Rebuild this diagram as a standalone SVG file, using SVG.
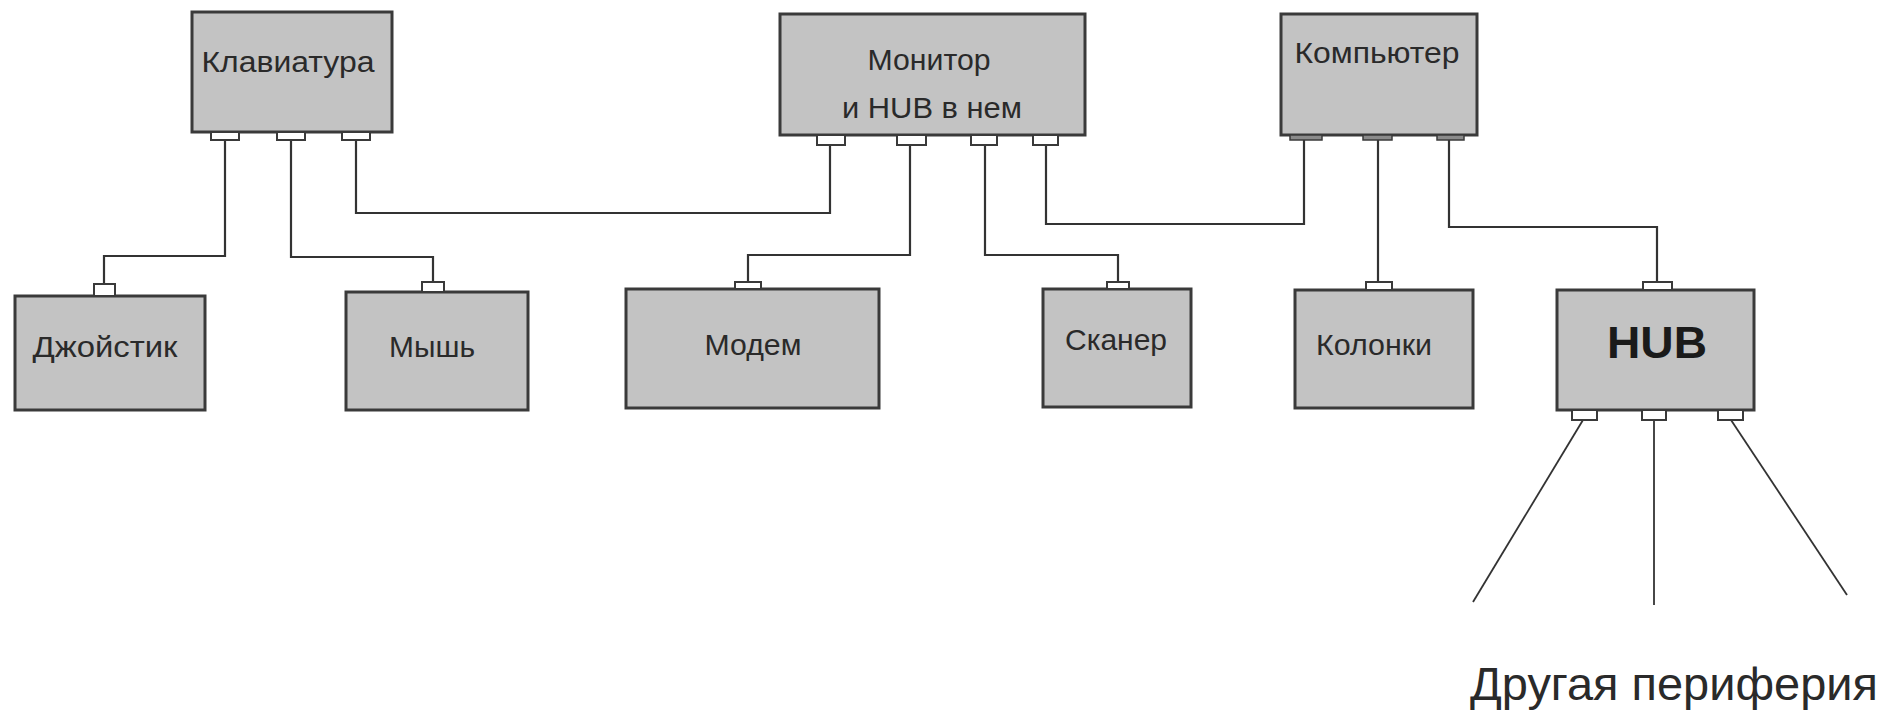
<svg xmlns="http://www.w3.org/2000/svg" width="1885" height="711" viewBox="0 0 1885 711">
<style>
.box{fill:#c3c3c3;stroke:#3a3a3a;stroke-width:3}
.port{fill:#ffffff;stroke:#3a3a3a;stroke-width:2}
.portd{fill:#8a8a8a;stroke:#3a3a3a;stroke-width:1.5}
.lbl{font-family:"Liberation Sans",Arial,sans-serif;font-size:29px;fill:#2a2a2a;text-anchor:middle}
.hub{font-family:"Liberation Sans",Arial,sans-serif;font-size:44px;font-weight:bold;fill:#1a1a1a;text-anchor:middle}
.per{font-family:"Liberation Sans",Arial,sans-serif;font-size:46px;fill:#2a2a2a}
.wire{fill:none;stroke:#333;stroke-width:2.2}
.wire2{fill:none;stroke:#333;stroke-width:1.8}
</style>
<rect width="1885" height="711" fill="#ffffff"/>

<g id="connectors">
  <polyline class="wire" points="225,140 225,256 104,256 104,284"/>
  <polyline class="wire" points="291,140 291,257 433,257 433,282"/>
  <polyline class="wire" points="356,140 356,213 830,213 830,145"/>
  <polyline class="wire" points="910,145 910,255 748,255 748,282"/>
  <polyline class="wire" points="985,145 985,255 1118,255 1118,282"/>
  <polyline class="wire" points="1046,145 1046,224 1304,224 1304,140"/>
  <polyline class="wire" points="1378,140 1378,282"/>
  <polyline class="wire" points="1449,140 1449,227 1657,227 1657,282"/>
  <line class="wire2" x1="1583" y1="420" x2="1473" y2="602"/>
  <line class="wire2" x1="1654" y1="420" x2="1654" y2="605"/>
  <line class="wire2" x1="1731" y1="420" x2="1847" y2="595"/>
</g>

<g id="keyboard">
  <rect class="box" x="192" y="12" width="200" height="120"/>
  <rect class="port" x="211" y="132" width="28" height="8"/>
  <rect class="port" x="277" y="132" width="28" height="8"/>
  <rect class="port" x="342" y="132" width="28" height="8"/>
  <text class="lbl" x="288" y="72" textLength="173" lengthAdjust="spacingAndGlyphs">Клавиатура</text>
</g>

<g id="monitor">
  <rect class="box" x="780" y="14" width="305" height="121"/>
  <rect class="port" x="817" y="135" width="28" height="10"/>
  <rect class="port" x="897" y="135" width="29" height="10"/>
  <rect class="port" x="971" y="135" width="26" height="10"/>
  <rect class="port" x="1033" y="135" width="25" height="10"/>
  <text class="lbl" x="929" y="70" textLength="123" lengthAdjust="spacingAndGlyphs">Монитор</text>
  <text class="lbl" x="932" y="118" textLength="180" lengthAdjust="spacingAndGlyphs">и HUB в нем</text>
</g>

<g id="computer">
  <rect class="box" x="1281" y="14" width="196" height="121"/>
  <rect class="portd" x="1290" y="135" width="32" height="5"/>
  <rect class="portd" x="1363" y="135" width="29" height="5"/>
  <rect class="portd" x="1437" y="135" width="27" height="5"/>
  <text class="lbl" x="1377" y="63" textLength="165" lengthAdjust="spacingAndGlyphs">Компьютер</text>
</g>

<g id="joystick">
  <rect class="box" x="15" y="296" width="190" height="114"/>
  <rect class="port" x="94" y="284" width="21" height="12"/>
  <text class="lbl" x="105" y="357" textLength="145" lengthAdjust="spacingAndGlyphs">Джойстик</text>
</g>

<g id="mouse">
  <rect class="box" x="346" y="292" width="182" height="118"/>
  <rect class="port" x="422" y="282" width="22" height="10"/>
  <text class="lbl" x="432" y="357" textLength="86" lengthAdjust="spacingAndGlyphs">Мышь</text>
</g>

<g id="modem">
  <rect class="box" x="626" y="289" width="253" height="119"/>
  <rect class="port" x="735" y="282" width="26" height="7"/>
  <text class="lbl" x="753" y="355" textLength="97" lengthAdjust="spacingAndGlyphs">Модем</text>
</g>

<g id="scanner">
  <rect class="box" x="1043" y="289" width="148" height="118"/>
  <rect class="port" x="1107" y="282" width="22" height="7"/>
  <text class="lbl" x="1116" y="350" textLength="102" lengthAdjust="spacingAndGlyphs">Сканер</text>
</g>

<g id="speakers">
  <rect class="box" x="1295" y="290" width="178" height="118"/>
  <rect class="port" x="1366" y="282" width="26" height="8"/>
  <text class="lbl" x="1374" y="355" textLength="116" lengthAdjust="spacingAndGlyphs">Колонки</text>
</g>

<g id="hub">
  <rect class="box" x="1557" y="290" width="197" height="120"/>
  <rect class="port" x="1643" y="282" width="29" height="8"/>
  <rect class="port" x="1572" y="410" width="25" height="10"/>
  <rect class="port" x="1642" y="410" width="24" height="10"/>
  <rect class="port" x="1718" y="410" width="25" height="10"/>
  <text class="hub" x="1657" y="358" textLength="100" lengthAdjust="spacingAndGlyphs">HUB</text>
</g>

<g id="other-peripherals">
  <text class="per" x="1470" y="700" textLength="408" lengthAdjust="spacingAndGlyphs">Другая периферия</text>
</g>
</svg>
